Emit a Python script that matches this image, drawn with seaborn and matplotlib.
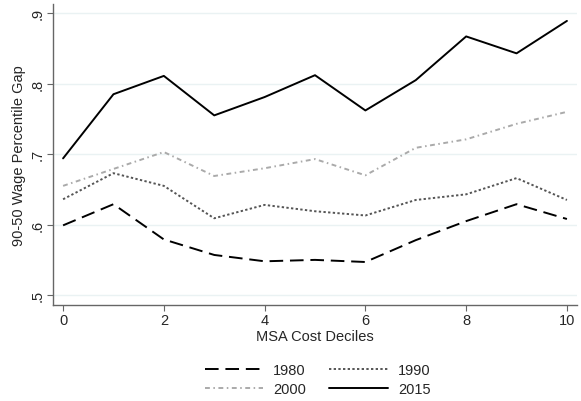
import pandas as pd
import matplotlib.pyplot as plt
import seaborn as sns

deciles = list(range(11))
gap_1980 = [0.599, 0.629, 0.579, 0.557, 0.548, 0.550, 0.547, 0.578, 0.605, 0.629, 0.608]
gap_1990 = [0.636, 0.673, 0.655, 0.609, 0.628, 0.619, 0.613, 0.635, 0.643, 0.666, 0.635]
gap_2000 = [0.655, 0.679, 0.703, 0.669, 0.680, 0.693, 0.670, 0.709, 0.721, 0.743, 0.760]
gap_2015 = [0.694, 0.785, 0.811, 0.755, 0.781, 0.812, 0.762, 0.805, 0.867, 0.843, 0.889]
years = ['1980', '1990', '2000', '2015']
yticks = [0.5, 0.6, 0.7, 0.8, 0.9]
ytick_labels = ['.5', '.6', '.7', '.8', '.9']

df = pd.DataFrame({'decile': deciles * 4,
                   'gap': gap_1980 + gap_1990 + gap_2000 + gap_2015,
                   'year': [y for y in years for _ in deciles]})

sns.set_style('white')
plt.rcParams['font.family'] = ['Liberation Sans', 'DejaVu Sans']

fig = plt.figure(figsize=(5.81, 4.02), dpi=100)
ax = fig.add_axes([53/581, 1 - 306/402, 524/581, 301/402])

styles = {'1980': ('black', (0, (7, 3.5))),
          '1990': ('#555555', (0, (1.2, 1.2))),
          '2000': ('#aaaaaa', (0, (2.5, 1.8, 0.8, 1.8))),
          '2015': ('black', '-')}
for yr in years:
    col, ls = styles[yr]
    sns.lineplot(data=df[df['year'] == yr], x='decile', y='gap', ax=ax,
                 color=col, linestyle=ls, linewidth=1.4, label=yr)

ax.set_xlim(-0.2, 10.2)
ax.set_ylim(0.486, 0.913)
ax.set_xticks([0, 2, 4, 6, 8, 10])
ax.set_yticks(yticks)
ax.set_yticklabels(ytick_labels, rotation=90, va='center')
ax.grid(axis='y', color='#eaf2f3', linewidth=1)
ax.grid(axis='x', visible=False)
ax.set_xlabel('MSA Cost Deciles', fontsize=10.5, labelpad=1)
ax.set_ylabel('90-50 Wage Percentile Gap', fontsize=10.5, labelpad=3)
ax.tick_params(axis='both', labelsize=10.5, length=4, color='#666666',
               left=True, bottom=True, pad=2)
for s in ['top', 'right']:
    ax.spines[s].set_visible(False)
for s in ['left', 'bottom']:
    ax.spines[s].set_color('#666666')
    ax.spines[s].set_linewidth(1)

# legend filled row-wise: 1980 1990 / 2000 2015
h, l = ax.get_legend_handles_labels()
order = [0, 2, 1, 3]
ax.legend([h[i] for i in order], [l[i] for i in order], ncol=2, frameon=False,
          loc='upper center', bbox_to_anchor=(0.505, -0.15), fontsize=10.5,
          handlelength=4.0, handletextpad=0.7, columnspacing=1.6, labelspacing=0.3)

fig.savefig('out.png', dpi=100)
